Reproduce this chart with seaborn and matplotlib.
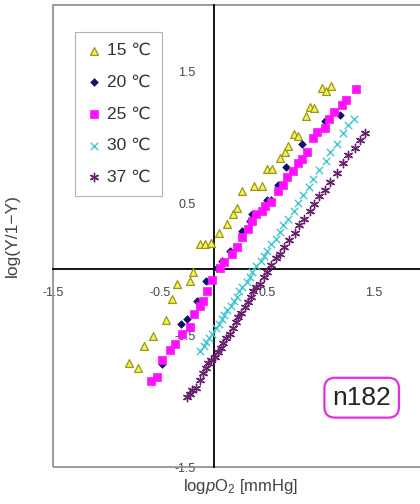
import numpy as np
import pandas as pd
import matplotlib
matplotlib.use("Agg")
import matplotlib.pyplot as plt
from matplotlib.patches import Rectangle
import seaborn as sns

# values (log pO2, log(Y/1-Y))
x15 = [-0.79, -0.71, -0.65, -0.57, -0.44, -0.39, -0.34, -0.22, -0.19, -0.13, -0.08, -0.02,
       0.05, 0.13, 0.18, 0.22, 0.27, 0.38, 0.45, 0.50, 0.55, 0.62, 0.67, 0.70, 0.75, 0.79,
       0.86, 0.90, 0.94, 1.01, 1.05, 1.10]
y15 = [-0.71, -0.75, -0.58, -0.51, -0.39, -0.23, -0.11, -0.09, -0.02, 0.19, 0.19, 0.20,
       0.27, 0.34, 0.42, 0.46, 0.59, 0.63, 0.63, 0.76, 0.76, 0.84, 0.89, 0.93, 1.02, 1.01,
       1.16, 1.23, 1.22, 1.37, 1.35, 1.39]

x20 = [-0.48, -0.30, -0.25, -0.15, -0.07, 0.03, 0.08, 0.15, 0.27, 0.34, 0.36, 0.50, 0.54,
       0.60, 0.68, 0.83, 1.04, 1.18]
y20 = [-0.72, -0.42, -0.38, -0.24, -0.09, 0.01, 0.06, 0.14, 0.29, 0.36, 0.42, 0.52, 0.52,
       0.64, 0.77, 0.95, 1.12, 1.17]

x25 = [-0.58, -0.53, -0.48, -0.41, -0.36, -0.29, -0.22, -0.18, -0.13, -0.10, -0.06, -0.01,
       0.06, 0.10, 0.17, 0.22, 0.27, 0.32, 0.36, 0.40, 0.45, 0.48, 0.54, 0.60, 0.65, 0.69,
       0.74, 0.79, 0.83, 0.87, 0.93, 0.97, 1.04, 1.08, 1.13, 1.20, 1.24, 1.33]
y25 = [-0.85, -0.82, -0.69, -0.61, -0.57, -0.49, -0.44, -0.34, -0.28, -0.24, -0.17, -0.08,
       0.01, 0.05, 0.11, 0.17, 0.24, 0.30, 0.36, 0.42, 0.44, 0.48, 0.51, 0.59, 0.64, 0.70,
       0.74, 0.80, 0.83, 0.89, 0.99, 1.04, 1.07, 1.14, 1.19, 1.24, 1.28, 1.36]

x30 = [-0.13, -0.09, -0.07, -0.04, -0.01, 0.02, 0.05, 0.08, 0.10, 0.13, 0.16, 0.19, 0.22,
       0.24, 0.27, 0.31, 0.34, 0.36, 0.40, 0.44, 0.47, 0.50, 0.54, 0.58, 0.62, 0.65, 0.70,
       0.75, 0.79, 0.84, 0.89, 0.93, 0.99, 1.05, 1.09, 1.15, 1.21, 1.26, 1.31]
y30 = [-0.62, -0.58, -0.55, -0.52, -0.49, -0.45, -0.42, -0.38, -0.35, -0.31, -0.28, -0.24,
       -0.21, -0.17, -0.14, -0.10, -0.06, -0.02, 0.02, 0.06, 0.10, 0.14, 0.19, 0.23, 0.28,
       0.33, 0.38, 0.44, 0.50, 0.56, 0.62, 0.68, 0.75, 0.82, 0.89, 0.95, 1.03, 1.09, 1.14]

x37 = [-0.25, -0.22, -0.20, -0.16, -0.13, -0.10, -0.07, -0.05, -0.02, 0.01, 0.04, 0.07,
       0.09, 0.12, 0.15, 0.18, 0.21, 0.23, 0.26, 0.29, 0.32, 0.35, 0.37, 0.40, 0.43, 0.47,
       0.50, 0.54, 0.58, 0.62, 0.66, 0.71, 0.76, 0.80, 0.85, 0.90, 0.94, 0.99, 1.04, 1.09,
       1.15, 1.21, 1.26, 1.32, 1.37, 1.42]
y37 = [-0.97, -0.95, -0.92, -0.90, -0.84, -0.79, -0.75, -0.71, -0.69, -0.67, -0.63, -0.60,
       -0.56, -0.52, -0.49, -0.45, -0.40, -0.36, -0.33, -0.29, -0.25, -0.21, -0.17, -0.14,
       -0.11, -0.06, -0.02, 0.03, 0.08, 0.11, 0.17, 0.22, 0.27, 0.33, 0.38, 0.44, 0.49,
       0.55, 0.60, 0.66, 0.73, 0.80, 0.86, 0.92, 0.98, 1.03]

labels = ["15 \u2103", "20 \u2103", "25 \u2103", "30 \u2103", "37 \u2103"]
xticks = [-1.5, -0.5, 0.5, 1.5]
yticks = [-1.5, -0.5, 0.5, 1.5]

sns.set_style("white")
plt.rcParams["font.family"] = ["Liberation Sans", "DejaVu Sans"]
plt.rcParams["axes.unicode_minus"] = False
plt.rcParams["mathtext.fontset"] = "custom"
plt.rcParams["mathtext.rm"] = "Liberation Sans"
plt.rcParams["mathtext.it"] = "Liberation Sans:italic"

fig = plt.figure(figsize=(4.2, 5.04), dpi=100)
ax = fig.add_axes([53 / 420, 37 / 504, 374.5 / 420, 462 / 504])

# marker, face colour, edge colour, size, line width
styles = [
    ("^", "#f4f060", "#9a9a10", 32, 0.9),
    ("D", "#10106a", "#10106a", 15, 0.5),
    ("s", "#ff10ff", "#ff10ff", 28, 0.5),
    ("x", "#40c8d0", "#40c8d0", 28, 1.0),
    ((6, 2, 0), "#6a2070", "#6a2070", 36, 1.0),
]
series = [(x15, y15), (x20, y20), (x25, y25), (x30, y30), (x37, y37)]

for (xs, ys), lab, (mk, fc, ec, s, lw) in zip(series, labels, styles):
    df = pd.DataFrame({"x": xs, "y": ys})
    if mk == "x" or isinstance(mk, tuple):
        sns.scatterplot(data=df, x="x", y="y", marker=mk, color=fc, s=s,
                        linewidth=lw, label=lab, ax=ax, zorder=3)
    else:
        sns.scatterplot(data=df, x="x", y="y", marker=mk, color=fc, edgecolor=ec,
                        s=s, linewidth=lw, label=lab, ax=ax, zorder=3)

ax.set_xlim(-1.5, 2.0)
ax.set_ylim(-1.5, 2.0)

# axes through the origin, grey frame around the plot area
for side in ["top", "right"]:
    ax.spines[side].set_visible(False)
for side in ["left", "bottom"]:
    ax.spines[side].set_position(("data", 0))
    ax.spines[side].set_color("black")
    ax.spines[side].set_linewidth(1.3)
    ax.spines[side].set_zorder(2)
ax.add_patch(Rectangle((0, 0), 1, 1, transform=ax.transAxes, fill=False,
                       edgecolor="#8a8a8a", linewidth=1.2, clip_on=False, zorder=1))

ax.set_xticks(xticks)
ax.set_yticks(yticks)
ax.set_xticklabels([str(t) for t in xticks])
ax.set_yticklabels([str(t) for t in yticks])
ax.tick_params(axis="both", direction="in", length=5, width=1, labelsize=9,
               labelcolor="#444444", color="black")
ax.tick_params(axis="x", pad=13)
ax.tick_params(axis="y", pad=13)

ax.set_xlabel(r"log$\it{p}$O$_2$ [mmHg]", fontsize=12, color="#444444")
ax.xaxis.set_label_coords(0.50, -0.021)
ax.set_ylabel("log(Y/1\u2212Y)", fontsize=12.5, color="#444444")
ax.yaxis.set_label_coords(-0.088, 0.5)

leg = ax.legend(loc="upper left", bbox_to_anchor=(0.058, 0.942), borderaxespad=0,
                fontsize=12.5, frameon=True, fancybox=False, edgecolor="#a0a0a0",
                handlelength=0.9, handletextpad=0.3, labelspacing=0.95,
                borderpad=0.65, markerscale=1.0)
leg.get_frame().set_linewidth(0.8)
for t in leg.get_texts():
    t.set_color("#333333")

ax.text(1.385, -0.975, "n182", fontsize=19, color="#222222", ha="center", va="center",
        bbox=dict(boxstyle="round,pad=0.3,rounding_size=0.4", facecolor="white",
                  edgecolor="#e030e0", linewidth=1.6))

fig.savefig("out.png", dpi=100)
